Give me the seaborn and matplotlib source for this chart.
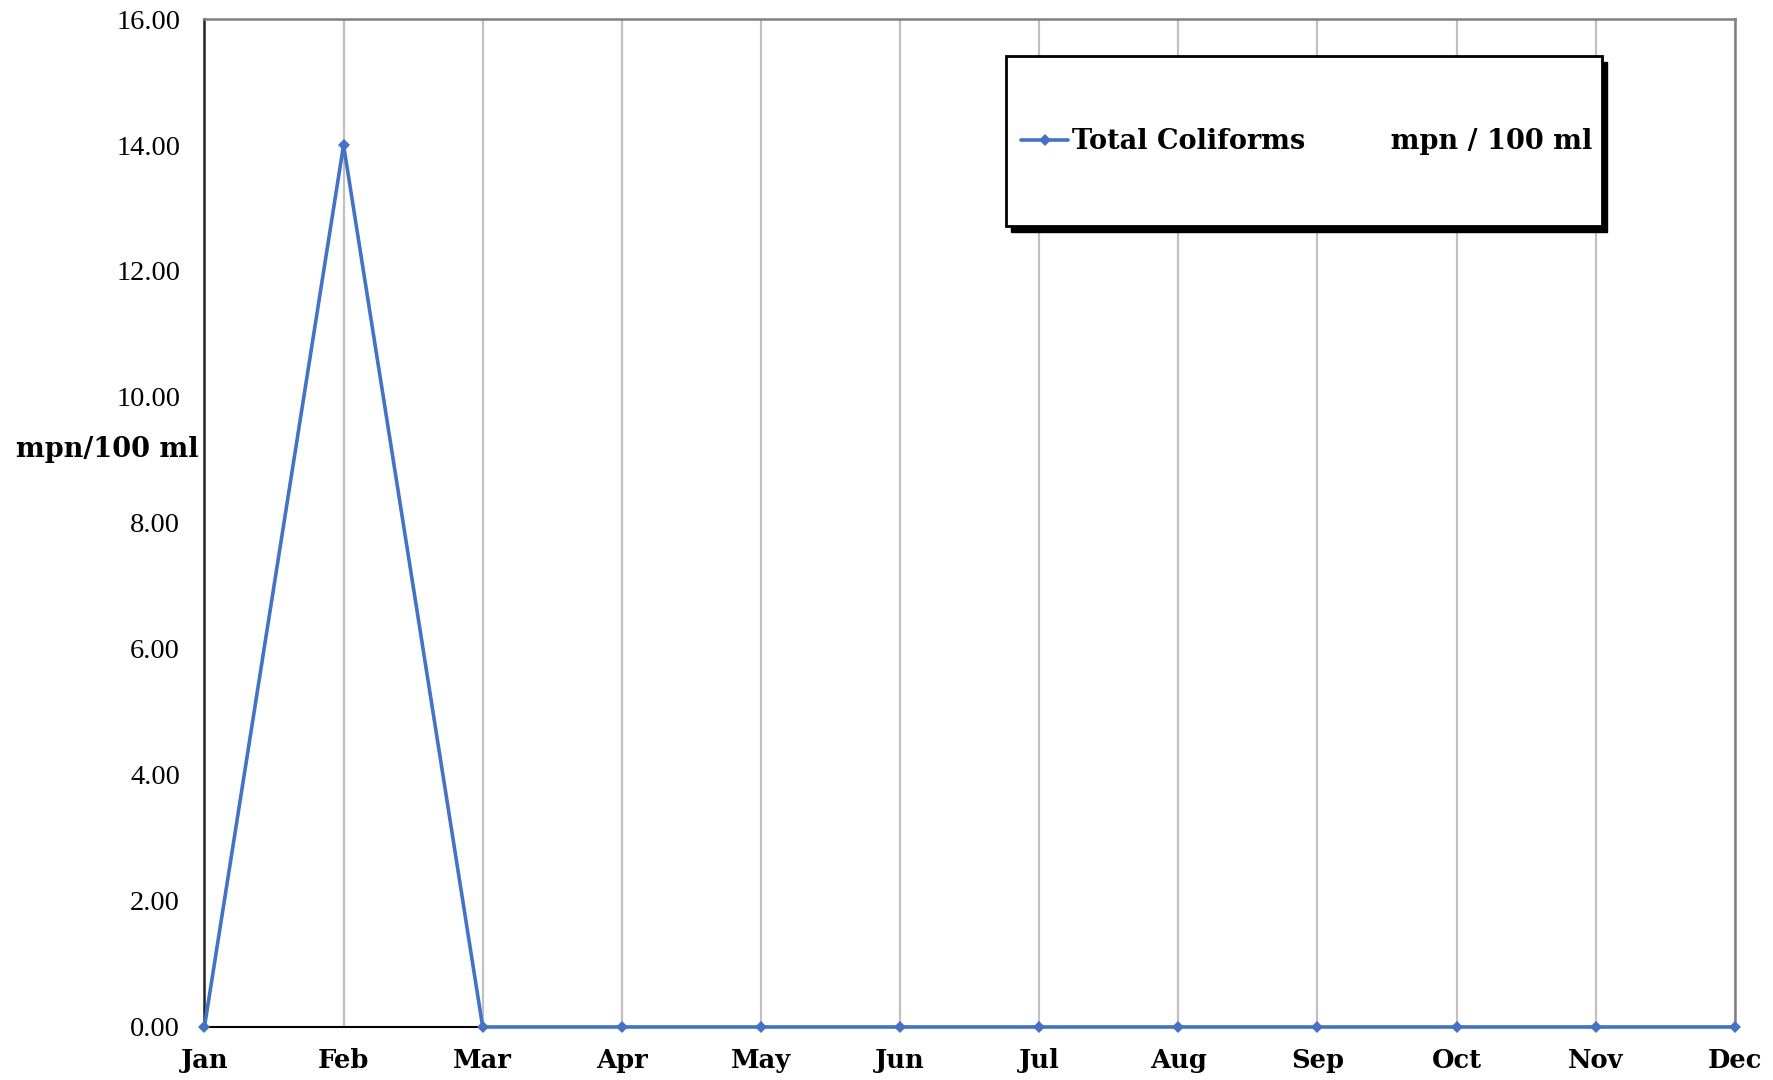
import matplotlib
matplotlib.use('Agg')
import matplotlib.pyplot as plt
from matplotlib.patches import Rectangle
import seaborn as sns
import pandas as pd


months = ['Jan', 'Feb', 'Mar', 'Apr', 'May', 'Jun', 'Jul', 'Aug', 'Sep', 'Oct', 'Nov', 'Dec']
total_coliforms = [0, 14, 0, 0, 0, 0, 0, 0, 0, 0, 0, 0]
y_ticks = [0, 2, 4, 6, 8, 10, 12, 14, 16]
series_label = 'Total Coliforms         mpn / 100 ml'

sns.set_style('white')
plt.rcParams['font.family'] = ['Liberation Serif', 'DejaVu Serif']
for key in ['text.color', 'axes.labelcolor', 'xtick.color', 'ytick.color']:
    plt.rcParams[key] = 'black'

bold_font = {'family': 'DejaVu Serif', 'weight': 'bold', 'size': 19.5}
tick_font = {'family': 'DejaVu Serif', 'weight': 'bold', 'size': 18.5}

df = pd.DataFrame({'month': range(len(months)), 'value': total_coliforms})

fig = plt.figure(figsize=(17.73, 10.8), dpi=100)
ax = fig.add_axes([0.1153, 0.0491, 0.8632, 0.9333])

sns.lineplot(data=df, x='month', y='value', ax=ax, color='#4472C4', linewidth=2.6,
             marker='D', markersize=6, markeredgewidth=0, label=series_label)
for line in ax.lines:
    line.set_clip_on(False)
    line.set_zorder(6)

ax.set_xlim(0, len(months) - 1)
ax.set_ylim(0, 16)
ax.set_xticks(range(len(months)))
ax.set_xticklabels(months, fontdict=tick_font)
ax.set_yticks(y_ticks)
ax.set_yticklabels([f'{v:.2f}' for v in y_ticks], fontsize=20.5)
ax.xaxis.grid(True, color='#c0c0c0', linewidth=1.6)
ax.yaxis.grid(False)
ax.set_axisbelow(True)

ax.tick_params(axis='y', direction='inout', length=11, width=1.3, pad=12, color='black')
ax.tick_params(axis='x', direction='inout', length=10, width=1.2, pad=10, color='black')

ax.spines['left'].set_color('#222222')
ax.spines['left'].set_linewidth(1.8)
ax.spines['bottom'].set_color('black')
ax.spines['bottom'].set_linewidth(1.5)
ax.spines['top'].set_color('#808080')
ax.spines['top'].set_linewidth(1.8)
ax.spines['right'].set_color('#808080')
ax.spines['right'].set_linewidth(1.8)

ax.set_xlabel('')
ax.set_ylabel('mpn/100 ml', rotation=0, ha='right', va='center', fontdict=bold_font)
ax.yaxis.set_label_coords(-0.004, 0.573)

# legend box with drop shadow, drawn as plain patches
box_x0, box_y0, box_w, box_h = 0.5237, 0.7946, 0.3894, 0.1687
shadow = Rectangle((box_x0 + 0.0035, box_y0 - 0.006), box_w, box_h, transform=ax.transAxes,
                   facecolor='black', edgecolor='black', zorder=7)
frame = Rectangle((box_x0, box_y0), box_w, box_h, transform=ax.transAxes,
                  facecolor='white', edgecolor='black', linewidth=2, zorder=8)
ax.add_patch(shadow)
ax.add_patch(frame)

leg = ax.legend(loc='center left', bbox_to_anchor=(0.5335, 0.878),
                frameon=False, borderpad=0, borderaxespad=0, handlelength=1.75,
                handletextpad=0.15, prop=bold_font)
leg.set_zorder(9)

fig.savefig('out.png', dpi=100)
